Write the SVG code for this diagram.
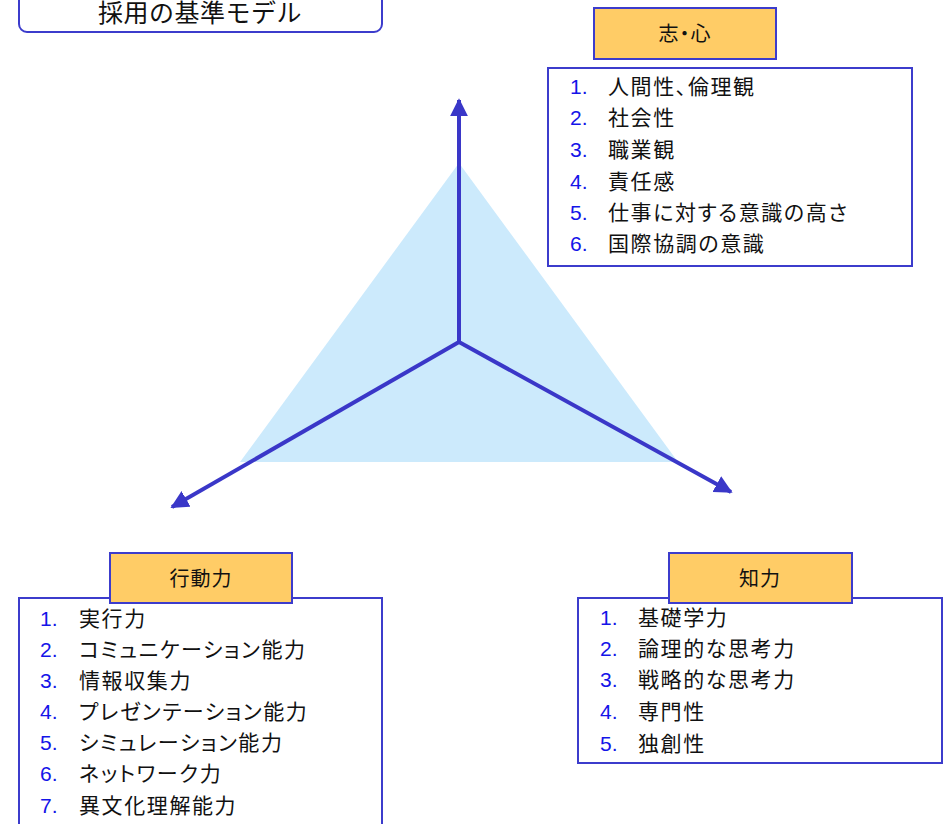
<svg xmlns="http://www.w3.org/2000/svg" width="944" height="824" viewBox="0 0 944 824">
<defs>
<style>
.jp{font-family:"Liberation Sans","Noto Sans CJK JP",sans-serif;font-feature-settings:"palt";}
.item{font-size:21px;fill:#111;letter-spacing:1.6px;}
.num{font-size:21px;fill:#1414e8;font-family:"Liberation Sans",Arial,sans-serif;}
.head{fill:#ffcc66;stroke:#3c3ccc;stroke-width:2;}
.list{fill:#fff;stroke:#3c3ccc;stroke-width:2;}
.ht{font-size:20px;fill:#111;text-anchor:middle;letter-spacing:1px;}
.axis{stroke:#3a37c8;stroke-width:4;fill:none;marker-end:url(#ah);}
</style>
<marker id="ah" viewBox="0 0 10 10" refX="9" refY="5" markerWidth="4.5" markerHeight="4.5" orient="auto" markerUnits="strokeWidth">
<path d="M0,0 L10,5 L0,10 z" fill="#3a37c8"/>
</marker>
</defs>
<rect width="944" height="824" fill="#fff"/>
<g id="title">
<rect x="19" y="-12" width="363" height="44" rx="8" fill="#fff" stroke="#3c3ccc" stroke-width="2"/>
<text x="200" y="22" font-family="Liberation Sans,Noto Sans CJK JP,sans-serif" font-size="25" fill="#111" text-anchor="middle" letter-spacing="0.5">採用の基準モデル</text>
</g>
<polygon points="459,163 240,462 678,462" fill="#cceafc"/>
<g id="connectors">
<line x1="459" y1="342" x2="459" y2="100" class="axis"/>
<line x1="459" y1="342" x2="172" y2="507" class="axis"/>
<line x1="459" y1="342" x2="731" y2="492" class="axis"/>
</g>
<g id="kokoro">
<rect x="594" y="8" width="182" height="51" class="head"/>
<text x="685" y="41" class="jp ht">志・心</text>
<rect x="548" y="68" width="364" height="198" class="list"/>
<g class="jp">
<text x="570" y="94" class="num">1.</text><text x="608" y="94" class="item">人間性、倫理観</text>
<text x="570" y="125" class="num">2.</text><text x="608" y="125" class="item">社会性</text>
<text x="570" y="157" class="num">3.</text><text x="608" y="157" class="item">職業観</text>
<text x="570" y="189" class="num">4.</text><text x="608" y="189" class="item">責任感</text>
<text x="570" y="220" class="num">5.</text><text x="608" y="220" class="item">仕事に対する意識の高さ</text>
<text x="570" y="251" class="num">6.</text><text x="608" y="251" class="item">国際協調の意識</text>
</g>
</g>
<g id="koudou">
<rect x="19" y="598" width="363" height="240" class="list"/>
<rect x="110" y="553" width="182" height="50" class="head"/>
<text x="201" y="586" class="jp ht">行動力</text>
<g class="jp">
<text x="40" y="626" class="num">1.</text><text x="79" y="626" class="item">実行力</text>
<text x="40" y="657" class="num">2.</text><text x="79" y="657" class="item">コミュニケーション能力</text>
<text x="40" y="688" class="num">3.</text><text x="79" y="688" class="item">情報収集力</text>
<text x="40" y="719" class="num">4.</text><text x="79" y="719" class="item">プレゼンテーション能力</text>
<text x="40" y="750" class="num">5.</text><text x="79" y="750" class="item">シミュレーション能力</text>
<text x="40" y="781" class="num">6.</text><text x="79" y="781" class="item">ネットワーク力</text>
<text x="40" y="813" class="num">7.</text><text x="79" y="813" class="item">異文化理解能力</text>
</g>
</g>
<g id="chiryoku">
<rect x="578" y="598" width="364" height="165" class="list"/>
<rect x="669" y="553" width="183" height="50" class="head"/>
<text x="760" y="586" class="jp ht">知力</text>
<g class="jp">
<text x="600" y="625" class="num">1.</text><text x="638" y="625" class="item">基礎学力</text>
<text x="600" y="656" class="num">2.</text><text x="638" y="656" class="item">論理的な思考力</text>
<text x="600" y="687" class="num">3.</text><text x="638" y="687" class="item">戦略的な思考力</text>
<text x="600" y="719" class="num">4.</text><text x="638" y="719" class="item">専門性</text>
<text x="600" y="751" class="num">5.</text><text x="638" y="751" class="item">独創性</text>
</g>
</g>
</svg>
